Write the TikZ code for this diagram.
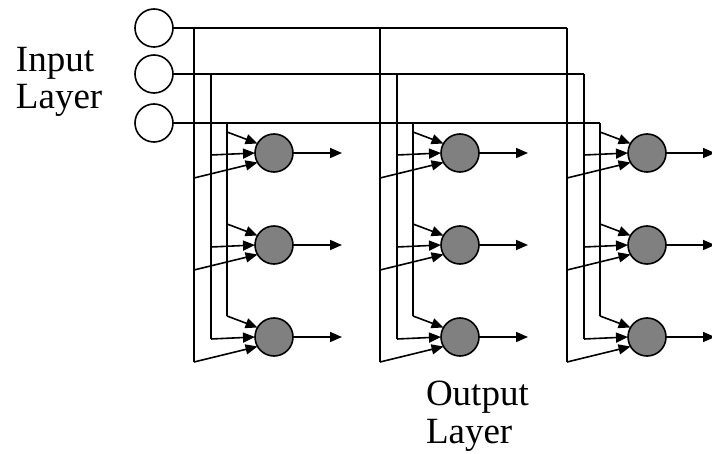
\documentclass[tikz,border=0pt]{standalone}
\usepackage{fontspec}
\setmainfont{Liberation Serif}
\usetikzlibrary{arrows.meta}
\begin{document}
\begin{tikzpicture}[x=0.5pt,y=-0.5pt,line width=0.8pt,>={Triangle[length=6pt,width=5pt]},every node/.style={outer sep=0pt, inner sep=0pt},
  inunit/.style={circle,draw,fill=white,minimum size=19pt},
  cell/.style={circle,draw,fill={rgb,255:red,128;green,128;blue,128},minimum size=19pt},
  lbl/.style={font=\fontsize{18.5}{18.8}\selectfont,align=left,anchor=north west}]
\useasboundingbox (0,0) rectangle (712,454);
\node[inunit] (in1) at (154,28) {};
\node[inunit] (in2) at (154,74) {};
\node[inunit] (in3) at (154,123) {};
\foreach \g/\cx in {1/274,2/460,3/647} {
  \coordinate (t1\g) at (\cx-80,28);
  \coordinate (t2\g) at (\cx-63,74);
  \coordinate (t3\g) at (\cx-47,123);
  \foreach \r/\cy in {1/153,2/245,3/337} {
    \node[cell] (h\g\r) at (\cx,\cy) {};
    \coordinate (p1\g\r) at (\cx-80,\cy+25);
    \coordinate (p2\g\r) at (\cx-63,\cy+2);
    \coordinate (p3\g\r) at (\cx-47,\cy-21);
    \coordinate (o\g\r) at (\cx+68,\cy);
  }
}
\draw (in1) -- (t13);
\draw (in2) -- (t23);
\draw (in3) -- (t33);
\foreach \g in {1,2,3} {
  \draw (t1\g) -- (p1\g3);
  \draw (t2\g) -- (p2\g3);
  \draw (t3\g) -- (p3\g3);
  \foreach \r in {1,2,3} {
    \draw[->] (p1\g\r) -- (h\g\r.210);
    \draw[->] (p2\g\r) -- (h\g\r.west);
    \draw[->] (p3\g\r) -- (h\g\r.150);
    \draw[->] (h\g\r) -- (o\g\r);
  }
}
\node[lbl] (inlbl) at (16,47) {Input\\Layer};
\node[lbl] (outlbl) at (426,381) {Output\\Layer};
\end{tikzpicture}
\end{document}
